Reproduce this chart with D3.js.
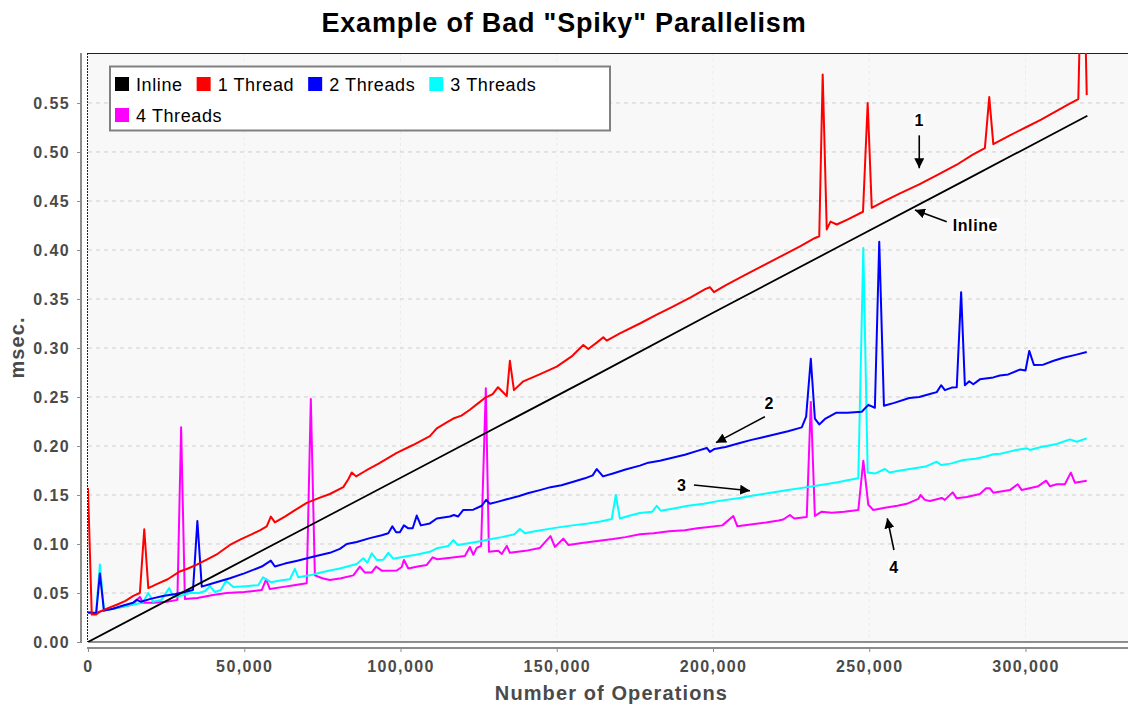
<!DOCTYPE html>
<head>
  <meta charset="utf-8">
  <script src="https://d3js.org/d3.v7.min.js"></script>
  <style>
    body { margin:0; background:#fff; }
    svg text { font-family: "Liberation Sans", Arial, sans-serif; }
    .axis text { font-size:16px; font-weight:bold; fill:#4a4a4a; letter-spacing:1.4px; }
    .axis path, .axis line { stroke:#8c8c8c; }
    .axis path { stroke-width:2px; }
    .grid line { stroke:#cfcfcf; stroke-dasharray:4,4; }
    .series { fill:none; stroke-width:2px; stroke-linejoin:round; }
    .note { font-size:16px; font-weight:bold; fill:#000; letter-spacing:0.6px; }
  </style>
</head>
<body>
<script>

// tick labels
var yTicks = [0, 0.05, 0.10, 0.15, 0.20, 0.25, 0.30, 0.35, 0.40, 0.45, 0.50, 0.55];
var xTicks = [0, 50000, 100000, 150000, 200000, 250000, 300000];

// series names (legend order)
var names = ["Inline", "1 Thread", "2 Threads", "3 Threads", "4 Threads"];
var colors = ["#000000", "#ff0000", "#0000ff", "#00ffff", "#ff00ff"];

// [operations, msec]
var inline = [[0,0],[40000,0.067],[80000,0.134],[120000,0.201],[160000,0.268],[200000,0.336],
  [240000,0.403],[280000,0.470],[319800,0.537]];

var oneThread = [[0,0.157],[1200,0.028],[2600,0.028],[3800,0.031],[6000,0.034],[9200,0.038],[12000,0.042],
  [14500,0.047],[16600,0.050],[18000,0.115],[19300,0.055],[22000,0.059],[25500,0.064],[29400,0.072],
  [32000,0.075],[34800,0.079],[38000,0.084],[41500,0.090],[45400,0.099],[49000,0.105],[52500,0.110],
  [55000,0.114],[57200,0.118],[58500,0.128],[59800,0.122],[63000,0.128],[66500,0.135],[70000,0.142],
  [74000,0.147],[77400,0.151],[81700,0.158],[83300,0.166],[84400,0.173],[85800,0.169],[89000,0.175],
  [93000,0.182],[98800,0.193],[104000,0.201],[109400,0.210],[111600,0.218],[114800,0.224],[116900,0.228],
  [119500,0.231],[122200,0.237],[125000,0.244],[127000,0.249],[129500,0.253],[131200,0.260],[134000,0.251],
  [135000,0.287],[136300,0.257],[139300,0.266],[144500,0.273],[150000,0.281],[155000,0.292],[158500,0.303],
  [160100,0.299],[163000,0.306],[164900,0.311],[166000,0.3075],[170200,0.315],[176600,0.325],[182000,0.334],
  [187000,0.342],[193000,0.352],[197500,0.360],[199000,0.362],[200300,0.357],[204000,0.364],[210000,0.374],
  [216000,0.384],[222000,0.394],[228000,0.404],[232500,0.412],[234000,0.414],[235100,0.579],[236400,0.421],
  [237600,0.429],[239600,0.426],[243000,0.431],[248000,0.439],[249500,0.550],[250800,0.443],[255000,0.450],
  [260000,0.458],[266000,0.467],[272000,0.477],[278000,0.487],[283000,0.497],[287000,0.504],[288400,0.556],
  [289700,0.508],[295000,0.517],[300000,0.525],[305000,0.533],[310000,0.542],[314000,0.549],[316900,0.554],
  [318300,0.756],[319600,0.558]];

var twoThreads = [[0,0.030],[1200,0.030],[2600,0.029],[3800,0.070],[5100,0.032],[8000,0.034],[11000,0.037],
  [14400,0.040],[15600,0.043],[17000,0.041],[20000,0.044],[24000,0.047],[28000,0.049],[31000,0.051],
  [33600,0.053],[35000,0.1235],[36400,0.0565],[40000,0.060],[45400,0.065],[50000,0.070],[55600,0.077],
  [58500,0.083],[59800,0.077],[63000,0.080],[67000,0.083],[72000,0.087],[77400,0.091],[80600,0.095],
  [82800,0.100],[86000,0.102],[90200,0.106],[94000,0.109],[96100,0.111],[97400,0.118],[98600,0.112],
  [99800,0.112],[101100,0.119],[102500,0.116],[103900,0.116],[105200,0.129],[106500,0.119],[109400,0.121],
  [111600,0.126],[115800,0.128],[117100,0.1296],[118400,0.128],[120100,0.1347],[123300,0.135],[126000,0.139],
  [127400,0.145],[128600,0.141],[131000,0.143],[134000,0.1456],[138000,0.149],[141000,0.152],[144600,0.155],
  [148000,0.158],[151500,0.160],[155300,0.1636],[159000,0.167],[161500,0.170],[162800,0.1765],[164800,0.169],
  [168000,0.172],[172000,0.176],[176600,0.180],[179300,0.183],[183000,0.185],[187000,0.188],[191000,0.191],
  [195000,0.195],[198000,0.198],[199000,0.194],[200500,0.197],[204000,0.199],[208600,0.203],[212000,0.206],
  [216000,0.209],[220000,0.212],[224000,0.215],[228400,0.219],[229800,0.230],[231300,0.289],[232600,0.228],
  [234000,0.222],[236000,0.228],[239500,0.234],[243000,0.234],[247600,0.235],[249700,0.242],[251800,0.239],
  [253200,0.4085],[254700,0.241],[258000,0.244],[262800,0.249],[266000,0.250],[269400,0.253],[271600,0.255],
  [273000,0.262],[274200,0.257],[276400,0.2596],[278000,0.260],[279400,0.357],[280600,0.262],[282000,0.266],
  [283300,0.263],[285400,0.268],[289700,0.270],[291800,0.272],[294500,0.273],[298200,0.278],[300000,0.277],
  [301200,0.297],[302700,0.2827],[305700,0.283],[309000,0.287],[312100,0.290],[316000,0.293],[319600,0.296]];

var threeThreads = [[0,0.030],[1200,0.030],[2600,0.030],[3800,0.079],[5100,0.032],[8000,0.034],[11000,0.036],
  [14000,0.038],[17500,0.040],[19300,0.050],[20800,0.041],[23500,0.043],[26000,0.055],[27300,0.046],
  [29400,0.047],[32600,0.050],[35500,0.050],[37500,0.052],[39000,0.057],[40600,0.051],[42500,0.053],
  [44200,0.0626],[46500,0.056],[50500,0.057],[54500,0.058],[56000,0.066],[58500,0.061],[62000,0.063],
  [64600,0.064],[66200,0.0745],[67300,0.066],[71000,0.068],[74500,0.071],[77400,0.073],[80600,0.075],
  [86000,0.0796],[88100,0.0854],[89400,0.081],[90800,0.0905],[92400,0.0837],[94500,0.084],[96100,0.091],
  [97700,0.085],[101000,0.087],[105000,0.089],[109400,0.092],[111600,0.0956],[115300,0.098],[116900,0.104],
  [118300,0.099],[122200,0.101],[126000,0.103],[129000,0.105],[132400,0.107],[136500,0.110],[138200,0.1153],
  [139800,0.111],[143000,0.113],[150000,0.1167],[155000,0.119],[160000,0.121],[164000,0.123],[167600,0.1255],
  [168900,0.150],[170200,0.126],[173500,0.129],[176600,0.1316],[180600,0.133],[182000,0.139],[183300,0.134],
  [187000,0.136],[192000,0.139],[197000,0.141],[202000,0.144],[208600,0.147],[212000,0.149],[216000,0.151],
  [220000,0.153],[224000,0.155],[228000,0.157],[232000,0.159],[236000,0.161],[240000,0.163],[243000,0.165],
  [246500,0.167],[248100,0.402],[249500,0.173],[252000,0.172],[255000,0.1765],[256500,0.173],[260000,0.175],
  [264000,0.177],[268000,0.179],[271600,0.184],[273000,0.1806],[276000,0.182],[280100,0.1857],[284000,0.187],
  [287000,0.189],[289700,0.1915],[292000,0.192],[294500,0.194],[297000,0.196],[300400,0.1976],[301400,0.196],
  [305000,0.199],[310000,0.202],[314200,0.2068],[316400,0.2044],[319600,0.2078]];

var fourThreads = [[0,0.030],[1200,0.029],[2600,0.030],[5000,0.032],[8000,0.034],[11000,0.036],[14000,0.038],
  [16600,0.046],[17600,0.040],[21000,0.040],[25200,0.041],[28600,0.043],[29800,0.219],[31000,0.044],
  [35000,0.045],[40000,0.048],[44400,0.050],[50000,0.051],[55600,0.053],[57000,0.064],[58200,0.054],
  [62000,0.056],[66000,0.058],[70000,0.060],[71300,0.248],[72600,0.068],[75000,0.065],[77400,0.0633],
  [81000,0.065],[84900,0.068],[87000,0.0769],[88600,0.0708],[90800,0.071],[92200,0.0769],[94000,0.0728],
  [98800,0.073],[100400,0.0765],[101100,0.0837],[102500,0.075],[105500,0.077],[108400,0.0786],[110300,0.0864],
  [111800,0.0844],[116000,0.086],[120600,0.0878],[122200,0.097],[123300,0.089],[124400,0.096],[125800,0.098],
  [127300,0.259],[128300,0.092],[131300,0.093],[132400,0.0898],[134000,0.098],[135000,0.091],[140000,0.093],
  [144600,0.096],[148000,0.108],[149400,0.097],[152100,0.1055],[153700,0.099],[158000,0.101],[163000,0.103],
  [168000,0.105],[172000,0.107],[176600,0.110],[181000,0.111],[186000,0.113],[191000,0.114],[195000,0.116],
  [198000,0.117],[203000,0.119],[206500,0.1286],[207800,0.118],[212000,0.120],[217000,0.122],[221000,0.124],
  [222500,0.125],[224600,0.1296],[226000,0.126],[230000,0.1276],[231300,0.245],[232600,0.1286],[234800,0.133],
  [238000,0.132],[242000,0.133],[246500,0.1347],[248100,0.185],[249700,0.140],[251300,0.1347],[255000,0.137],
  [259000,0.139],[262000,0.141],[265700,0.146],[266400,0.150],[267800,0.145],[269400,0.1439],[273200,0.147],
  [274200,0.145],[276700,0.1527],[278000,0.1466],[281200,0.148],[285400,0.151],[287400,0.1568],[288600,0.1568],
  [289700,0.1524],[295000,0.155],[297500,0.161],[298800,0.155],[304100,0.159],[306600,0.1646],[307800,0.159],
  [310000,0.161],[312600,0.161],[314500,0.1728],[315800,0.1626],[319600,0.1646]];

// annotations: label position and arrow, in data units
var notes = [
  {label:"1",      tx:266000, ty:0.5265, anchor:"middle", x1:266000, y1:0.517,  x2:266000, y2:0.4834},
  {label:"Inline", tx:276700, ty:0.419,  anchor:"start",  x1:274800, y1:0.4289, x2:264640, y2:0.4408},
  {label:"2",      tx:218000, ty:0.2378, anchor:"middle", x1:216600, y1:0.2299, x2:200960, y2:0.2034},
  {label:"3",      tx:190000, ty:0.1544, anchor:"middle", x1:193900, y1:0.1602, x2:211840, y2:0.1544},
  {label:"4",      tx:257900, ty:0.0707, anchor:"middle", x1:257900, y1:0.0939, x2:255780, y2:0.1262}
];

var series = [inline, oneThread, twoThreads, threeThreads, fourThreads];

var W = 1128, H = 705;
var plot = {left:88, top:53, bottom:642};

var svg = d3.select("body").append("svg")
  .attr("width", W)
  .attr("height", H);

var x = d3.scaleLinear().domain([0, 335000]).range([plot.left, plot.left + 335000*0.003125]);
var y = d3.scaleLinear().domain([0, 0.601]).range([plot.bottom, plot.top]);
var plotRight = x.range()[1];

// plot background
svg.append("rect")
  .attr("x", plot.left).attr("y", plot.top)
  .attr("width", plotRight - plot.left).attr("height", plot.bottom - plot.top)
  .style("fill", "#f8f8f8");

// vertical grid (very faint)
svg.append("g")
  .selectAll("line")
  .data(xTicks.slice(1))
  .enter().append("line")
  .attr("x1", d => x(d)).attr("x2", d => x(d))
  .attr("y1", plot.top).attr("y2", plot.bottom)
  .style("stroke", "#ececec").style("stroke-dasharray", "3,3");

// horizontal grid
svg.append("g").attr("class", "grid")
  .selectAll("line")
  .data(yTicks.slice(1))
  .enter().append("line")
  .attr("x1", plot.left).attr("x2", plotRight)
  .attr("y1", d => y(d)).attr("y2", d => y(d));

// plot outline
svg.append("line").attr("x1", plot.left).attr("x2", plotRight)
  .attr("y1", plot.top + 0.5).attr("y2", plot.top + 0.5).style("stroke", "#222");
svg.append("line").attr("x1", plot.left).attr("x2", plotRight)
  .attr("y1", plot.bottom).attr("y2", plot.bottom).style("stroke", "#222");
svg.append("line").attr("x1", plot.left - 0.5).attr("x2", plot.left - 0.5)
  .attr("y1", plot.top).attr("y2", plot.bottom)
  .style("stroke", "#1a1a4a").style("stroke-dasharray", "2,1");

svg.append("clipPath").attr("id", "clip")
  .append("rect")
  .attr("x", plot.left).attr("y", plot.top)
  .attr("width", plotRight - plot.left).attr("height", plot.bottom - plot.top);

var line = d3.line()
  .x(d => x(d[0]))
  .y(d => y(d[1]));

// series drawn last-to-first so Inline ends on top
var g = svg.append("g").attr("clip-path", "url(#clip)");
d3.range(series.length - 1, -1, -1).forEach(function(i) {
  g.append("path")
    .datum(series[i])
    .attr("class", "series")
    .style("stroke", colors[i])
    .style("stroke-width", i == 0 ? 1.8 : 2)
    .attr("d", line);
});

// axes
svg.append("g")
  .attr("class", "axis")
  .attr("transform", "translate(81,0)")
  .call(d3.axisLeft(y).tickValues(yTicks).tickFormat(d3.format(".2f"))
    .tickSize(4).tickSizeOuter(0).tickPadding(7))
  .select(".domain").attr("d", "M0," + plot.top + "V" + (plot.bottom + 1));

svg.append("g")
  .attr("class", "axis")
  .attr("transform", "translate(0,648)")
  .call(d3.axisBottom(x).tickValues(xTicks).tickFormat(d3.format(","))
    .tickSize(4).tickSizeOuter(0).tickPadding(9))
  .select(".domain").attr("d", "M" + (plot.left - 1) + ",0H" + W);

// titles
svg.append("text")
  .attr("x", W / 2).attr("y", 32)
  .attr("text-anchor", "middle")
  .style("font-size", "27px").style("font-weight", "bold").style("letter-spacing", "0.8px")
  .text('Example of Bad "Spiky" Parallelism');

svg.append("text")
  .attr("x", (plot.left + plotRight) / 2).attr("y", 700)
  .attr("text-anchor", "middle")
  .style("font-size", "20px").style("font-weight", "bold").style("fill", "#4a4a4a")
  .style("letter-spacing", "1.1px")
  .text("Number of Operations");

svg.append("text")
  .attr("transform", "translate(24," + (plot.top + plot.bottom) / 2 + ") rotate(-90)")
  .attr("text-anchor", "middle")
  .style("font-size", "20px").style("font-weight", "bold").style("fill", "#4a4a4a")
  .style("letter-spacing", "1.1px")
  .text("msec.");

// annotations
svg.append("defs").append("marker")
  .attr("id", "head")
  .attr("viewBox", "0 0 10 10")
  .attr("refX", 10).attr("refY", 5)
  .attr("markerWidth", 10).attr("markerHeight", 10)
  .attr("markerUnits", "userSpaceOnUse")
  .attr("orient", "auto")
  .append("path").attr("d", "M0,0L10,5L0,10z").style("fill", "#000");

var ng = svg.append("g");
notes.forEach(function(n) {
  ng.append("line")
    .attr("x1", x(n.x1)).attr("y1", y(n.y1))
    .attr("x2", x(n.x2)).attr("y2", y(n.y2))
    .style("stroke", "#000").style("stroke-width", 1.6)
    .attr("marker-end", "url(#head)");
  var t = ng.append("text")
    .attr("class", "note")
    .attr("x", x(n.tx)).attr("y", y(n.ty))
    .attr("text-anchor", n.anchor)
    .text(n.label);
  var b = t.node().getBBox();
  ng.insert("rect", "text")
    .attr("x", b.x - 1).attr("y", b.y + 1)
    .attr("width", b.width + 2).attr("height", b.height - 2)
    .style("fill", "#fff");
});

// legend
var lg = svg.append("g");
var box = lg.append("rect")
  .attr("x", 110).attr("y", 66.5)
  .attr("width", 500).attr("height", 64)
  .style("fill", "#fff").style("stroke", "#808080").style("stroke-width", 2);

var lx = 115, ly = 77, legRight = 605;
names.forEach(function(name, i) {
  var it = lg.append("g");
  it.append("rect")
    .attr("width", 14).attr("height", 14)
    .style("fill", colors[i]);
  var tw = it.append("text")
    .attr("x", 21).attr("y", 13.5)
    .style("font-size", "18px").style("fill", "#000").style("letter-spacing", "0.6px")
    .text(name).node().getComputedTextLength();
  if (lx + 21 + tw > legRight) { lx = 115; ly += 31; }
  it.attr("transform", "translate(" + lx + "," + ly + ")");
  lx += 21 + tw + 14;
});

</script>
</body>
